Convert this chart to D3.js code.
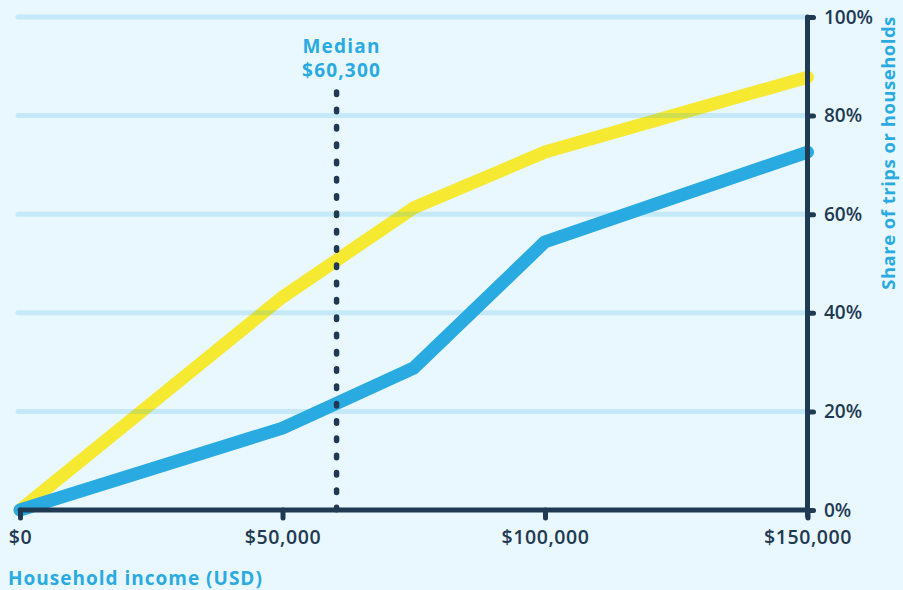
<!DOCTYPE html>
<html>
<head>
<meta charset="utf-8">
<script src="https://cdn.jsdelivr.net/npm/d3@7"></script>
<style>
  html, body { margin: 0; padding: 0; background: #e9f7fe; }
  svg { display: block; font-family: "Open Sans", "Noto Sans", sans-serif; }
</style>
</head>
<body>
<svg id="chart" width="903" height="590"></svg>
<script>
// Household income brackets (USD) and cumulative shares (%)
const incomes = [0, 50000, 75000, 100000, 150000];
const shareTrips = [0, 43.2, 61.3, 72.6, 87.8];
const shareHouseholds = [0, 16.6, 28.8, 54.4, 72.6];
const xTicks = [0, 50000, 100000, 150000];
const yTicks = [0, 20, 40, 60, 80, 100];
const medianIncome = 60300;

const navy = "#1f3a52";
const sky = "#29abe2";
const yellow = "#f5e931";
const gridColor = "rgba(41,171,226,0.18)";

const svg = d3.select("#chart");
const x = d3.scaleLinear().domain([0, 150000]).range([20, 807.5]);
const y = d3.scaleLinear().domain([0, 100]).range([510, 17]);

// series lines
const line = d3.line().x(d => x(d[0])).y(d => y(d[1]));
const series = [
  { values: shareTrips, color: yellow },
  { values: shareHouseholds, color: sky }
];
svg.append("g").selectAll("path")
  .data(series)
  .join("path")
  .attr("d", s => line(incomes.map((v, i) => [v, s.values[i]])))
  .attr("fill", "none")
  .attr("stroke", s => s.color)
  .attr("stroke-width", 13)
  .attr("stroke-linecap", "round")
  .attr("stroke-linejoin", "round");

// horizontal gridlines, translucent over the lines
svg.append("g").selectAll("line")
  .data(yTicks.filter(d => d > 0))
  .join("line")
  .attr("x1", x(0) - 2).attr("x2", x(150000))
  .attr("y1", d => y(d)).attr("y2", d => y(d))
  .attr("stroke", gridColor).attr("stroke-width", 5).attr("stroke-linecap", "round");

// median marker
svg.append("line")
  .attr("x1", x(medianIncome)).attr("x2", x(medianIncome))
  .attr("y1", 92).attr("y2", y(0))
  .attr("stroke", navy).attr("stroke-width", 5.5)
  .attr("stroke-linecap", "round")
  .attr("stroke-dasharray", "2.5,14.8");

const medLabel = svg.append("text")
  .attr("text-anchor", "middle")
  .attr("fill", sky)
  .attr("font-weight", 700)
  .attr("font-size", 19)
  .attr("letter-spacing", 1.2);
medLabel.append("tspan").attr("x", x(medianIncome) + 5).attr("y", 52.5).text("Median");
medLabel.append("tspan").attr("x", x(medianIncome) + 5).attr("y", 76.5).text("$" + d3.format(",")(medianIncome));

// x axis
const xAxis = svg.append("g").attr("transform", `translate(0,${y(0)})`)
  .call(d3.axisBottom(x).tickValues(xTicks).tickSize(8).tickPadding(12)
    .tickFormat(d => "$" + d3.format(",")(d)));
xAxis.select(".domain").remove();
xAxis.selectAll(".tick line").attr("stroke", navy).attr("stroke-width", 5).attr("stroke-linecap", "round");
xAxis.selectAll(".tick text").attr("fill", navy).attr("font-size", 19.5).attr("font-weight", 600)
  .attr("letter-spacing", 0.6)
  .attr("font-family", "'Open Sans', sans-serif");
svg.append("line")
  .attr("x1", x(0)).attr("x2", x(150000)).attr("y1", y(0)).attr("y2", y(0))
  .attr("stroke", navy).attr("stroke-width", 5).attr("stroke-linecap", "round");

// y axis on the right
const yAxis = svg.append("g").attr("transform", `translate(${x(150000)},0)`)
  .call(d3.axisRight(y).tickValues(yTicks).tickSize(6).tickPadding(10.5)
    .tickFormat(d => d + "%"));
yAxis.select(".domain").remove();
yAxis.selectAll(".tick line").attr("stroke", navy).attr("stroke-width", 5).attr("stroke-linecap", "round");
yAxis.selectAll(".tick text").attr("fill", navy).attr("font-size", 19).attr("font-weight", 600)
  .attr("font-family", "'Open Sans', sans-serif");
svg.append("line")
  .attr("x1", x(150000)).attr("x2", x(150000)).attr("y1", y(100)).attr("y2", y(0) + 6)
  .attr("stroke", navy).attr("stroke-width", 5).attr("stroke-linecap", "round");

// axis titles
svg.append("text")
  .attr("x", 8).attr("y", 585)
  .attr("fill", sky).attr("font-weight", 700).attr("font-size", 19)
  .attr("letter-spacing", 1)
  .text("Household income (USD)");
svg.append("text")
  .attr("transform", "translate(895,153) rotate(-90)")
  .attr("text-anchor", "middle")
  .attr("fill", sky).attr("font-weight", 700).attr("font-size", 18.5)
  .attr("letter-spacing", 0.5)
  .text("Share of trips or households");
</script>
</body>
</html>
